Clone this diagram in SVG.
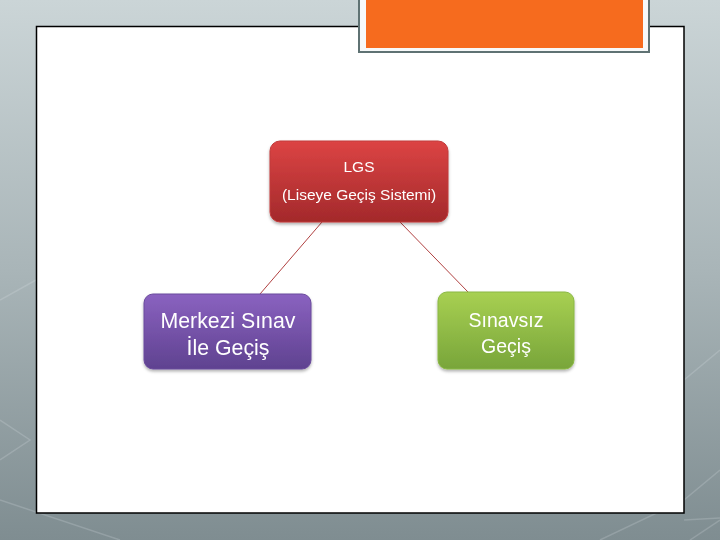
<svg xmlns="http://www.w3.org/2000/svg" width="720" height="540" viewBox="0 0 720 540">
  <defs>
    <linearGradient id="bg" x1="0" y1="0" x2="0" y2="1">
      <stop offset="0" stop-color="#cbd5d7"/>
      <stop offset="0.5" stop-color="#a9b5b8"/>
      <stop offset="1" stop-color="#7f8d91"/>
    </linearGradient>
    <linearGradient id="gRed" x1="0" y1="0" x2="0" y2="1">
      <stop offset="0" stop-color="#dc4444"/>
      <stop offset="1" stop-color="#a3292b"/>
    </linearGradient>
    <linearGradient id="gPurple" x1="0" y1="0" x2="0" y2="1">
      <stop offset="0" stop-color="#8a62c0"/>
      <stop offset="1" stop-color="#5f4290"/>
    </linearGradient>
    <linearGradient id="gGreen" x1="0" y1="0" x2="0" y2="1">
      <stop offset="0" stop-color="#a8d052"/>
      <stop offset="1" stop-color="#78a53a"/>
    </linearGradient>
    <filter id="sh" x="-10%" y="-10%" width="120%" height="130%">
      <feDropShadow dx="0" dy="2" stdDeviation="1.5" flood-color="#000" flood-opacity="0.3"/>
    </filter>
  </defs>
  <style>
    .lbl { font-family: "Liberation Sans", "Open Sans", sans-serif; fill: #ffffff; text-anchor: middle; }
    .conn { stroke: #b04040; stroke-width: 1; fill: none; }
    .bgline { stroke: #e4ecee; stroke-opacity: 0.2; stroke-width: 1.5; fill: none; }
  </style>
  <rect x="0" y="0" width="720" height="540" fill="url(#bg)"/>
  <g id="background-lines">
    <path class="bgline" d="M0 500 L120 540"/>
    <path class="bgline" d="M0 460 L30 440 L0 420"/>
    <path class="bgline" d="M690 540 L720 520"/>
    <path class="bgline" d="M684 500 L720 470"/>
    <path class="bgline" d="M684 380 L720 350"/>
    <path class="bgline" d="M600 540 L684 500"/>
    <path class="bgline" d="M684 520 L720 518"/>
    <path class="bgline" d="M0 300 L36 280"/>
  </g>
  <rect x="36.5" y="26.5" width="647.5" height="486.5" fill="#ffffff" stroke="#000000" stroke-width="1.5"/>
  <g id="title-tab">
    <rect x="359" y="-4" width="290" height="56" fill="#f7f9f9" stroke="#5f7273" stroke-width="2"/>
    <rect x="366" y="-4" width="277" height="52" fill="#f66b1e"/>
  </g>
  <g id="connectors">
    <line class="conn" x1="322" y1="222" x2="260" y2="294"/>
    <line class="conn" x1="400" y1="222" x2="468" y2="292"/>
  </g>
  <g id="node-lgs" filter="url(#sh)">
    <rect x="270" y="141" width="178" height="81" rx="10" fill="url(#gRed)" stroke="#c03a3a" stroke-width="1"/>
    <text class="lbl" x="359" y="172" font-size="15.5">LGS</text>
    <text class="lbl" x="359" y="200" font-size="15.5">(Liseye Geçiş Sistemi)</text>
  </g>
  <g id="node-merkezi" filter="url(#sh)">
    <rect x="144" y="294" width="167" height="75" rx="9" fill="url(#gPurple)" stroke="#6a4a9c" stroke-width="1"/>
    <text class="lbl" x="228" y="328" font-size="21.3">Merkezi Sınav</text>
    <text class="lbl" x="228" y="355" font-size="21.3">İle Geçiş</text>
  </g>
  <g id="node-sinavsiz" filter="url(#sh)">
    <rect x="438" y="292" width="136" height="77" rx="9" fill="url(#gGreen)" stroke="#8ab844" stroke-width="1"/>
    <text class="lbl" x="506" y="327" font-size="19.5">Sınavsız</text>
    <text class="lbl" x="506" y="353" font-size="19.5">Geçiş</text>
  </g>
</svg>
